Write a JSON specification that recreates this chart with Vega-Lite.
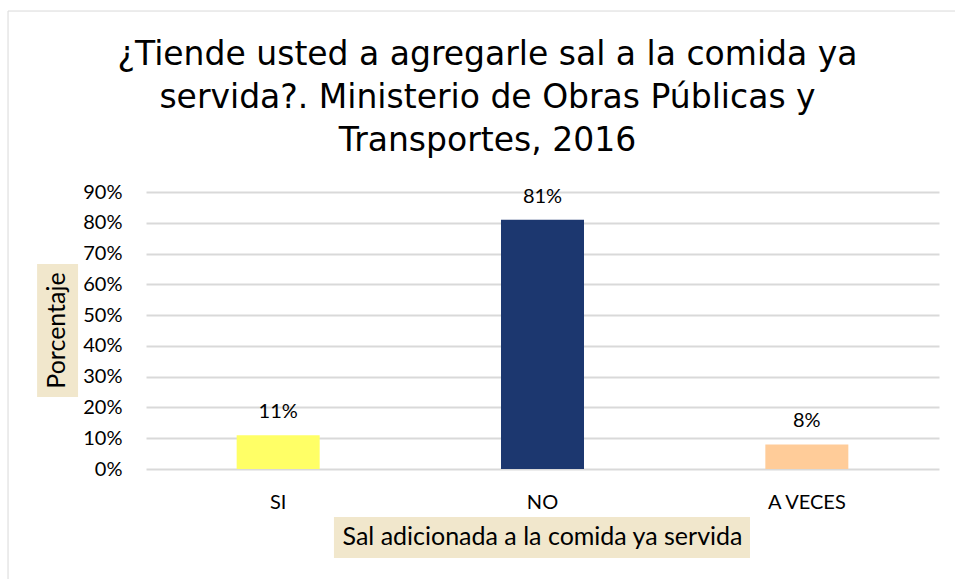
{
  "$schema": "https://vega.github.io/schema/vega-lite/v6.json",
  "autosize": {"type": "none"},
  "padding": {"left": 146, "top": 192, "right": 16, "bottom": 110},
  "width": 793,
  "height": 277,
  "background": "white",
  "config": {"view": {"stroke": null}, "font": "Lato", "axisY": {"tickCount": 10, "labelOverlap": false}},
  "title": {
    "text": ["¿Tiende usted a agregarle sal a la comida ya", "servida?. Ministerio de Obras Públicas y", "Transportes, 2016"],
    "font": "DejaVu Sans",
    "fontSize": 33,
    "fontWeight": "normal",
    "color": "#000000",
    "anchor": "middle",
    "frame": "group",
    "dx": -55,
    "lineHeight": 43,
    "offset": -147
  },
  "data": {"values": [
    {"respuesta": "SI", "porcentaje": 0.11},
    {"respuesta": "NO", "porcentaje": 0.81},
    {"respuesta": "A VECES", "porcentaje": 0.08}
  ]},
  "layer": [
    {
      "mark": {"type": "bar", "width": {"band": 0.314}},
      "encoding": {
        "x": {
          "field": "respuesta", "type": "nominal",
          "scale": {"domain": ["SI", "NO", "A VECES"], "paddingInner": 0, "paddingOuter": 0},
          "axis": {"labelAngle": 0, "labelFont": "Lato", "labelFontSize": 20, "labelColor": "#000000", "labelPadding": 23, "ticks": false, "domain": false, "grid": false, "title": null}
        },
        "y": {
          "field": "porcentaje", "type": "quantitative",
          "scale": {"domain": [0, 0.9], "nice": false},
          "axis": {"values": [0, 0.1, 0.2, 0.3, 0.4, 0.5, 0.6, 0.7, 0.8, 0.9], "tickCount": 10, "format": ".0%", "labelOverlap": false, "labelFont": "Lato", "labelFontSize": 20, "labelColor": "#000000", "labelPadding": 24, "ticks": false, "domain": false, "grid": true, "gridColor": "#d9d9d9", "gridWidth": 2, "title": null}
        },
        "color": {
          "field": "respuesta", "type": "nominal",
          "scale": {"domain": ["SI", "NO", "A VECES"], "range": ["#ffff66", "#1c376f", "#ffcc99"]},
          "legend": null
        }
      }
    },
    {
      "data": {"values": [{}]},
      "mark": {"type": "rule", "color": "#d9d9d9", "strokeWidth": 1},
      "encoding": {
        "x": {"datum": "SI", "type": "nominal", "bandPosition": -0.522},
        "x2": {"datum": "A VECES", "bandPosition": 1.1},
        "y": {"datum": 1.488, "type": "quantitative"}
      }
    },
    {
      "data": {"values": [{}]},
      "mark": {"type": "rule", "color": "#d9d9d9", "strokeWidth": 1},
      "encoding": {
        "x": {"datum": "SI", "type": "nominal", "bandPosition": -0.522},
        "y": {"datum": 1.488, "type": "quantitative"},
        "y2": {"datum": -0.36}
      }
    },
    {
      "mark": {"type": "text", "baseline": "alphabetic", "dy": -17, "font": "Lato", "fontSize": 20, "color": "#000000"},
      "encoding": {
        "x": {"field": "respuesta", "type": "nominal"},
        "y": {"field": "porcentaje", "type": "quantitative"},
        "text": {"field": "porcentaje", "type": "quantitative", "format": ".0%"}
      }
    },
    {
      "data": {"values": [{}]},
      "mark": {"type": "rect", "color": "#f1e7cc"},
      "encoding": {
        "x": {"datum": "SI", "type": "nominal", "bandPosition": 0.711},
        "x2": {"datum": "A VECES", "bandPosition": 0.285},
        "y": {"datum": -0.156, "type": "quantitative"},
        "y2": {"datum": -0.289}
      }
    },
    {
      "data": {"values": [{}]},
      "mark": {"type": "rect", "color": "#f1e7cc"},
      "encoding": {
        "x": {"datum": "SI", "type": "nominal", "bandPosition": -0.412},
        "x2": {"datum": "SI", "bandPosition": -0.257},
        "y": {"datum": 0.666, "type": "quantitative"},
        "y2": {"datum": 0.234}
      }
    },
    {
      "data": {"values": [{}]},
      "mark": {"type": "text", "baseline": "middle", "align": "center", "font": "Lato", "fontSize": 25, "color": "#000000", "text": "Sal adicionada a la comida ya servida"},
      "encoding": {
        "x": {"datum": "NO", "type": "nominal", "bandPosition": 0.5},
        "y": {"datum": -0.221, "type": "quantitative"}
      }
    },
    {
      "data": {"values": [{}]},
      "mark": {"type": "text", "baseline": "middle", "align": "center", "angle": 270, "font": "Lato", "fontSize": 25, "color": "#000000", "text": "Porcentaje"},
      "encoding": {
        "x": {"datum": "SI", "type": "nominal", "bandPosition": -0.335},
        "y": {"datum": 0.45, "type": "quantitative"}
      }
    }
  ]
}
